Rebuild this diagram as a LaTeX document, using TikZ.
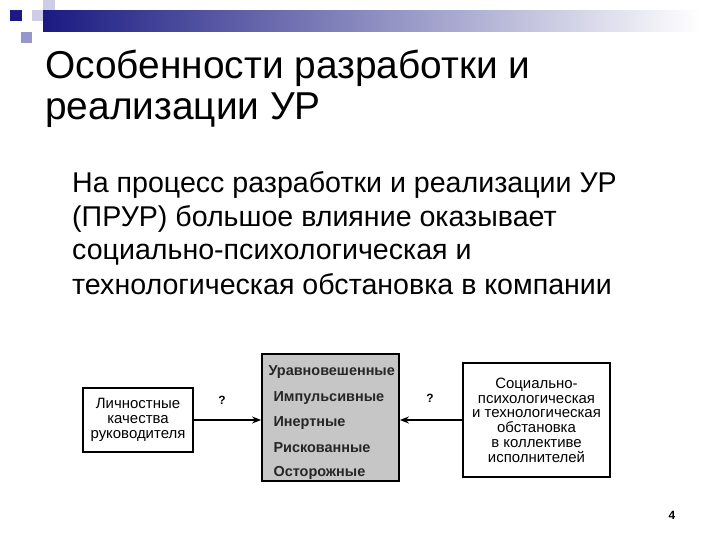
\documentclass[tikz,border=0pt]{standalone}
\usepackage{fontspec}
\setmainfont{Liberation Sans}
\usetikzlibrary{arrows.meta}
\definecolor{navy}{RGB}{26,26,130}
\definecolor{lav}{RGB}{150,150,205}
\definecolor{lavlight}{RGB}{205,205,232}
\begin{document}
\begin{tikzpicture}[x=1bp,y=-1bp,
  boxst/.style={draw=black,line width=1.8bp,fill=white,inner sep=0pt},
  diag/.style={font=\fontsize{15}{14.8}\selectfont,align=center},
  item/.style={font=\fontsize{14.5}{15}\selectfont\bfseries,anchor=base west,text=black!85},
  arr/.style={line width=1.8bp,-{Stealth[length=9bp,width=7bp]}},
  qm/.style={font=\fontsize{12}{14}\selectfont\bfseries},
  ttl/.style={anchor=base west,inner sep=0pt,font=\fontsize{39}{44}\selectfont},
  bdy/.style={anchor=base west,inner sep=0pt,font=\fontsize{28.7}{33}\selectfont}]
\useasboundingbox (0,0) rectangle (720,540);
% header decoration
\fill[lavlight] (43,0) rectangle (55,11);
\shade[left color=navy,right color=white] (43,11) rectangle (700,32);
\fill[navy] (10,10) rectangle (22,21);
\fill[lavlight] (32,10) rectangle (43,21);
\fill[lav] (21,32) rectangle (32,43);
% title
\node[ttl] (t1) at (45,79) {Особенности разработки и};
\node[ttl] (t2) at (45,120) {реализации УР};
% body
\node[bdy] (b1) at (72,193) {На процесс разработки и реализации УР};
\node[bdy] (b2) at (72,227) {(ПРУР) большое влияние оказывает};
\node[bdy] (b3) at (72,260) {социально-психологическая и};
\node[bdy] (b4) at (72,294) {технологическая обстановка в компании};
% diagram
\node[boxst,diag,minimum width=110bp,minimum height=64bp] (lb) at (138,420) {Личностные\\качества\\руководителя};
\node[draw=black,line width=1.8bp,fill=gray!45,minimum width=137bp,minimum height=127bp,inner sep=0pt] (cb) at (330.5,417.5) {};
\node[item] (i1) at (265,375) {Уравновешенные};
\node[item] (i2) at (270,401) {Импульсивные};
\node[item] (i3) at (270,426) {Инертные};
\node[item] (i4) at (270,452) {Рискованные};
\node[item] (i5) at (270,476) {Осторожные};
\node[boxst,diag,minimum width=147bp,minimum height=114bp] (rb) at (536.5,420) {Социально-\\психологическая\\и технологическая\\обстановка\\в коллективе\\исполнителей};
\draw[arr] (lb.east) -- (lb.east -| cb.west);
\draw[arr] (rb.west) -- (rb.west -| cb.east);
\node[qm] (q1) at (222,400) {?};
\node[qm] (q2) at (430,398) {?};
\node[font=\fontsize{12}{14}\selectfont\bfseries] (pn) at (672,515) {4};
\end{tikzpicture}
\end{document}
